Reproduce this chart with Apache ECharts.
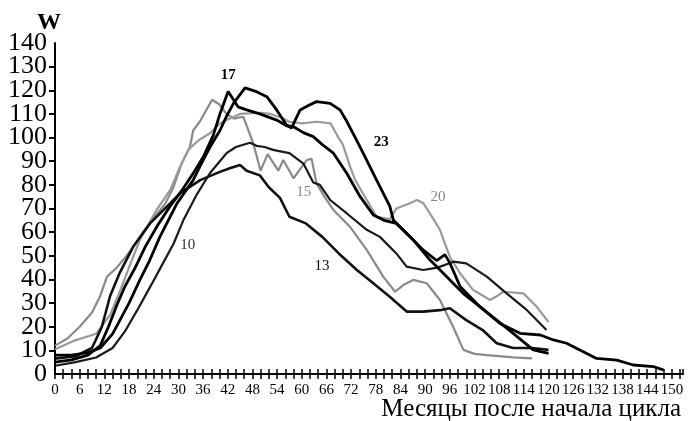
<!DOCTYPE html>
<html><head><meta charset="utf-8">
<script src="https://cdn.jsdelivr.net/npm/echarts@6/dist/echarts.min.js"></script>
<style>html,body{margin:0;padding:0;background:#fff}#c{width:692px;height:421px}</style>
</head><body><div id="c"></div>
<script>
// Data: [month after cycle start, W]
const cycle10 = [[0,3.5],[5,5],[10,7],[14,11],[17,18],[20,27],[23.5,38],[26.3,47],[28.8,55],[31.2,65],[34.5,76],[37.7,85],[41.7,93.4],[44,96],[47.4,97.8],[49,96.5],[51,96],[53,94.8],[57,93.4],[60.4,89],[62.8,81],[64.4,80],[66.9,73.6],[70.9,68],[75.8,61],[79,58],[83,51],[85.5,45.4],[89.5,44],[93,45],[96.9,47.5],[100,46.8],[105,41.2],[109.8,34.1],[114.7,27.1],[119.5,18.6]];
const cycle13 = [[0,6.5],[5,7.5],[9,11],[11.4,20],[13.4,33],[15.8,43],[19,53.8],[23.1,63.7],[27.2,70.8],[30.4,76.4],[35.3,82],[40.1,85.5],[42.5,87],[45,88.4],[46.6,86],[49.8,84],[52,79],[54.7,74.5],[57,66.5],[61,63.7],[65,58],[69,51],[73.4,44],[77.4,38.4],[81.4,32.7],[85.5,26.4],[89.5,26.4],[93.6,27],[96,27.8],[100,22.8],[104,18.6],[107.4,13],[111.4,11],[116,11],[120,10.2]];
const cycle15 = [[0,12],[3,15],[6,20],[9,26],[11,33],[12.6,41],[15,45],[17.4,50],[19.5,55],[21.4,60],[24,66],[26.8,72],[28.8,79],[30.8,89],[32.8,96],[33.6,103],[35.3,107],[36.9,112],[38.2,116],[40,114],[41.7,110],[43.5,108],[45.8,108.8],[48.2,97.6],[50,86],[51.7,93],[54.3,86],[55.5,90.5],[58,82.8],[61.2,90.5],[62.4,91],[63.6,80.6],[65.5,75],[67.7,69.4],[71.7,62.3],[75.8,52.5],[79.8,41.2],[82.7,34.8],[85,38],[87.1,39.8],[90.4,38.4],[93.6,31.3],[96.8,20],[99.3,10.2],[102,8.5],[105,8],[111.4,7],[116,6.6]];
const cycle17 = [[0,5],[4,6],[8,8],[11,12],[13,20],[15,29],[17,37],[19.5,45],[22,54],[25,63],[28,71],[31,78],[34,86],[36.1,92],[38.5,101],[40.1,110],[42.1,119.5],[44.5,113],[46.6,111.7],[49.8,110],[53.9,107.4],[56.3,105],[58,104.6],[60.5,102],[62.8,100.4],[65,97],[67.7,93.4],[70.9,85],[74.2,75],[77.4,67.3],[80,65],[83,63.7],[87.1,56.7],[91.2,48.2],[95.2,41.2],[99.3,34],[103.3,28.5],[107.4,22.8],[111.4,17.2],[116.3,10.2],[120,8.7]];
const cycle20 = [[0,10.5],[4.5,14],[10,17],[13.4,25],[15.8,35],[18.2,46],[20.7,57],[24.7,69.4],[28,77.8],[30.4,87.7],[32.4,94.8],[35,99],[37.7,101.8],[40.1,106],[41.7,107.4],[45,110],[50,110.5],[52.3,110],[55,108.5],[57,106.7],[60,106],[63.6,106.7],[67,106],[68.9,100],[70,97],[71.7,88],[73,82],[75,76],[78.2,66.5],[81.4,65.5],[83,70],[86,72],[88,73.6],[89.6,72.2],[91.5,67],[93.6,61],[96,49.6],[98.5,42.6],[101.7,35.5],[105.8,31.3],[107.5,33],[109,34.8],[113.9,34.1],[117.1,28.5],[120,22]];
const cycle23 = [[0,8],[4,8],[8,9],[11,11],[14,17],[18,30],[20.7,40],[23,48],[25.5,58],[29.6,72],[33.6,82],[35.3,88],[37.7,96],[40.1,103],[41.7,109],[43.4,114.5],[46.2,121],[49,119.4],[51.5,117.3],[53.9,111.7],[56.3,105.3],[57.5,104],[59.6,111.7],[61.5,113.5],[63.6,115.2],[66.9,114.5],[69.3,111.7],[70.9,107],[74.2,96],[78.2,82],[81.4,71],[82.3,65],[85.5,59.5],[89.5,52.5],[92.8,48],[94.8,50.5],[96,47],[98.5,37],[103.3,28.5],[108.2,21.4],[113.1,17.2],[118,16.5],[121.2,14.4],[124.4,13],[127.6,10.2],[131.7,6.6],[136.6,5.9],[140.6,3.8],[145.5,3.1],[148,1.7]];
const labelCoords = {'10':[32.3,54.6],'13':[64.9,45.7],'15':[60.5,77],'17':[42.1,126.5],'20':[93.1,74.9],'23':[79.3,98.1]};
const xTickStep = 2, xLabelStep = 6;
const yMax = 140, yStep = 10;
const xTitle = 'Месяцы после начала цикла';
const yTitle = 'W';

const styles = {
  '10': {color:'#1a1a1a', width:2.2, label:'#333', bold:false},
  '13': {color:'#111', width:2.6, label:'#111', bold:false},
  '15': {color:'#8a8a8a', width:2.2, label:'#888', bold:false},
  '17': {color:'#000', width:2.8, label:'#000', bold:true},
  '20': {color:'#9a9a9a', width:2.2, label:'#888', bold:false},
  '23': {color:'#000', width:2.8, label:'#000', bold:true}
};
const dataMap = {'10':cycle10,'13':cycle13,'15':cycle15,'17':cycle17,'20':cycle20,'23':cycle23};
const serif = 'Liberation Serif';
const order = ['15','20','13','10','17','23'];
const series = order.map(n => ({
  type:'line', name:n, data:dataMap[n], xAxisIndex:0, yAxisIndex:0, showSymbol:false, symbol:'none',
  lineStyle:{color:styles[n].color, width:styles[n].width}, smooth:false, animation:false,
  markPoint:{symbol:'circle', symbolSize:0, animation:false, silent:true,
    data:[{coord:labelCoords[n], label:{show:true, formatter:n, color:styles[n].label,
      fontFamily:serif, fontSize:15, fontWeight:styles[n].bold?'bold':'normal', position:'inside'}}]}
}));
const xMax = 152.7;
const yLabelStyle = {margin:8, color:'#000', fontFamily:serif, fontSize:26, hideOverlap:false};
const chart = echarts.init(document.getElementById('c'), null, {renderer:'canvas'});
chart.setOption({
  animation:false,
  backgroundColor:'#fff',
  grid:{left:55, right:9, top:43, bottom:47, containLabel:false},
  xAxis:[{
    type:'value', min:0, max:xMax, interval:xTickStep,
    axisLine:{show:true, onZero:false, lineStyle:{color:'#000', width:2}},
    axisTick:{show:true, length:5, lineStyle:{color:'#000', width:1.5}},
    axisLabel:{showMinLabel:true, showMaxLabel:false, hideOverlap:false, margin:9, color:'#000', fontFamily:serif, fontSize:15,
      formatter:v => (Math.abs(v % xLabelStep) < 1e-6 ? String(v) : '')},
    splitLine:{show:false}
  },{
    type:'value', min:0, max:xMax, interval:xTickStep, position:'bottom',
    axisLine:{show:false, onZero:false},
    axisTick:{show:true, inside:true, length:5, lineStyle:{color:'#000', width:1.5}},
    axisLabel:{show:false}, splitLine:{show:false}
  }],
  yAxis:[{
    type:'value', min:0, max:yMax, interval:yStep, position:'left',
    axisLine:{show:true, onZero:false, lineStyle:{color:'#000', width:2}},
    axisTick:{show:true, length:6, lineStyle:{color:'#000', width:2}},
    axisLabel:Object.assign({showMinLabel:false, showMaxLabel:false}, yLabelStyle),
    splitLine:{show:false}
  },{
    type:'value', min:0, max:yMax, interval:yStep, position:'left', offset:0,
    axisLine:{show:false, onZero:false}, axisTick:{show:false},
    axisLabel:Object.assign({showMinLabel:true, showMaxLabel:true,
      formatter:v => (v === 0 || v === yMax ? String(v) : '')}, yLabelStyle),
    splitLine:{show:false}
  }],
  graphic:[
    {type:'text', left:37, top:11, style:{text:yTitle, font:'bold 24px "Liberation Serif"', fill:'#000'}},
    {type:'text', right:11, top:397, style:{text:xTitle, font:'25px "Liberation Serif"', fill:'#000'}}
  ],
  series:series
});
</script></body></html>
